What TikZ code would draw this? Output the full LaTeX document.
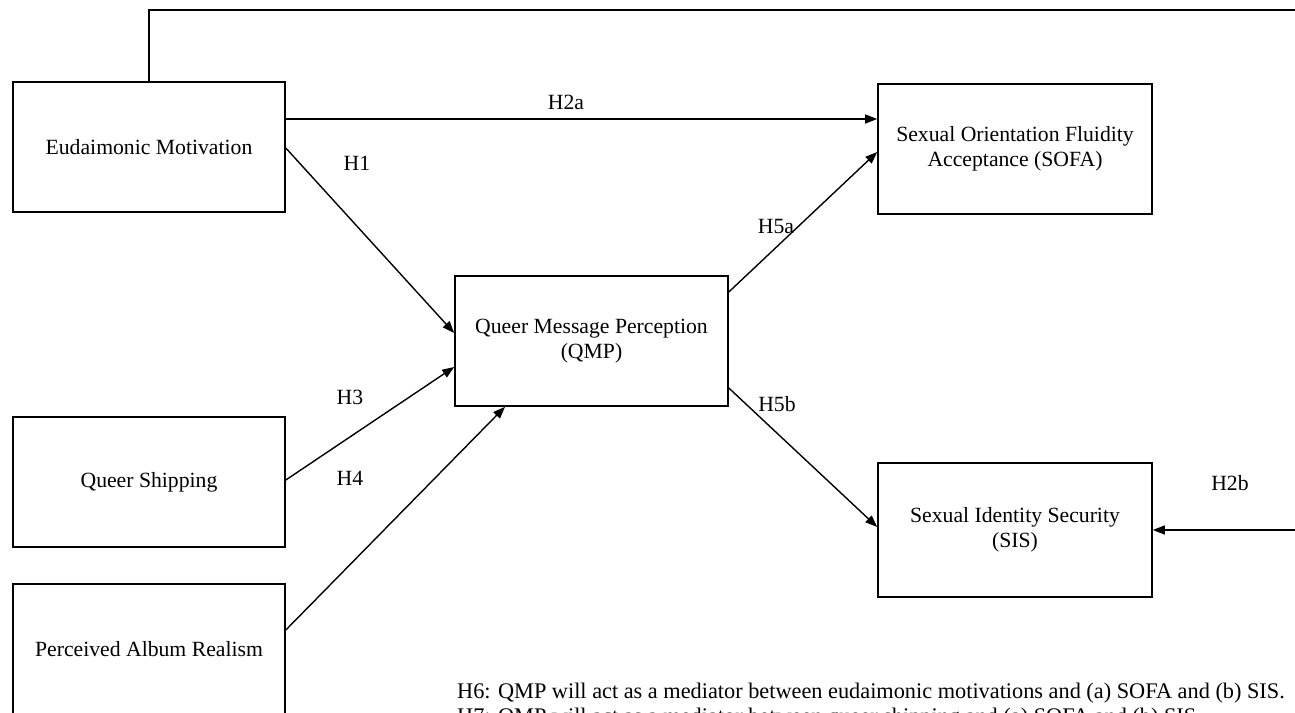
\documentclass[tikz,border=0pt]{standalone}
\usepackage{fontspec}
\setmainfont{Liberation Serif}
\usetikzlibrary{arrows.meta}
\begin{document}
\begin{tikzpicture}[x=1pt,y=-1pt,
  every node/.style={font=\fontsize{21.7}{25}\selectfont},
  box/.style={draw,line width=1.6pt,minimum width=272pt,minimum height=130pt,align=center,inner sep=0pt},
  conn/.style={line width=1.4pt},
  arr/.style={conn,-{Triangle[length=12pt,width=9pt]}},
  lbl/.style={inner sep=0pt}]
\useasboundingbox (0,0) rectangle (1295,712);
\clip (0,0) rectangle (1295,712);
\node[box] (em) at (149,147) {Eudaimonic Motivation};
\node[box] (qs) at (149,482) {Queer Shipping};
\node[box] (par) at (149,649) {Perceived Album Realism};
\node[box,minimum width=273pt] (qmp) at (591.5,341) {Queer Message Perception\\(QMP)};
\node[box,minimum width=274pt] (sofa) at (1015,149) {Sexual Orientation Fluidity\\Acceptance (SOFA)};
\node[box,minimum width=274pt,minimum height=134pt] (sis) at (1015,530) {Sexual Identity Security\\(SIS)};
\coordinate (tr) at (1300,10);
\coordinate (rr) at (1300,530);
\draw[conn] (em.north) |- (tr);
\draw[arr] ([yshift=28pt]em.east) -- ([yshift=28pt]em.east -| sofa.west);
\draw[arr] ([yshift=-1pt]em.east) -- ([yshift=8pt]qmp.west);
\draw[arr] ([yshift=2pt]qs.east) -- ([yshift=-26pt]qmp.west);
\draw[arr] ([yshift=19pt]par.east) -- ([xshift=-86.5pt]qmp.south);
\draw[arr] ([yshift=49pt]qmp.east) -- ([yshift=-3pt]sofa.west);
\draw[arr] ([yshift=-47pt]qmp.east) -- ([yshift=3pt]sis.west);
\draw[arr] (rr) -- (sis.east);
\node[lbl] (l2a) at (566,102) {H2a};
\node[lbl] (l1) at (357,163) {H1};
\node[lbl] (l5a) at (776,226) {H5a};
\node[lbl] (l3) at (350,397) {H3};
\node[lbl] (l5b) at (777,404) {H5b};
\node[lbl] (l4) at (350,478) {H4};
\node[lbl] (l2b) at (1230,483) {H2b};
\node[lbl,anchor=north west,align=left,font=\fontsize{22.3}{25}\selectfont] (notes) at (457,683) {H6: QMP will act as a mediator between eudaimonic motivations and (a) SOFA and (b) SIS.\\H7: QMP will act as a mediator between queer shipping and (a) SOFA and (b) SIS.};
\end{tikzpicture}
\end{document}
